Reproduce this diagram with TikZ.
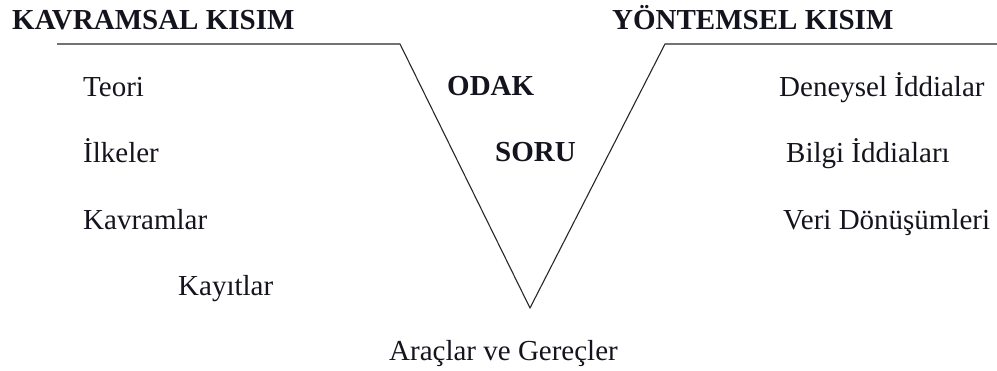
\documentclass[tikz,border=0pt]{standalone}
\usepackage{fontspec}
\setmainfont{Liberation Serif}
\definecolor{lineblack}{RGB}{40,40,40}
\definecolor{textblack}{RGB}{20,20,30}
\usepackage{tikz}
\usetikzlibrary{positioning}

\tikzset{
  vlabel/.style={anchor=base west,inner sep=0pt,text=textblack,
                 font=\fontsize{29}{34}\selectfont},
  vhead/.style={vlabel,font=\fontsize{29}{34}\selectfont\bfseries}
}

\begin{document}
\begin{tikzpicture}[x=1pt,y=-1pt]
    \useasboundingbox (0,0) rectangle (997,371);
    % the V
    \coordinate (kstart) at (57,44);
    \coordinate (kend) at (400,44);
    \coordinate (tip) at (530,308);
    \coordinate (ystart) at (665,44);
    \coordinate (yend) at (997,44);
    \draw[lineblack,line width=1.1pt] (kstart) -- (kend) -- (tip) -- (ystart) -- (yend);

    \node[vhead] (kavramsal) at (12,30) {KAVRAMSAL KISIM};
    \node[vhead] (yontemsel) at (612,30) {YÖNTEMSEL KISIM};

    \node[vlabel] (teori) at (83,97) {Teori};
    \node[vlabel] (ilkeler) at (83,163) {İlkeler};
    \node[vlabel] (kavramlar) at (83,230) {Kavramlar};
    \node[vlabel] (kayitlar) at (178,296) {Kayıtlar};

    \node[vhead] (odak) at (447,96) {ODAK};
    \node[vhead] (soru) at (495,162) {SORU};

    \node[vlabel] (deneysel) at (779,97) {Deneysel İddialar};
    \node[vlabel] (bilgi) at (786,163) {Bilgi İddiaları};
    \node[vlabel] (veri) at (783,230) {Veri Dönüşümleri};

    \node[vlabel] (araclar) at (389,361) {Araçlar ve Gereçler};
  \end{tikzpicture}
\end{document}
